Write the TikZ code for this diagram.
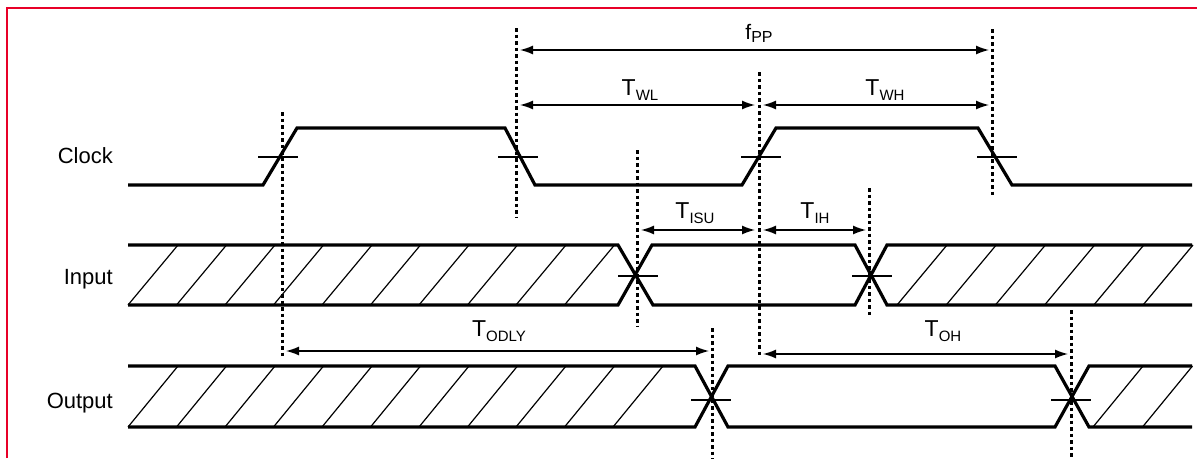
\documentclass[tikz,border=0pt]{standalone}
\usepackage{fontspec}
\setmainfont{Liberation Sans}
\usetikzlibrary{arrows.meta}
\newcommand\sigsub[2]{#1\raisebox{-5pt}{\fontsize{15}{15}\selectfont #2}}

\begin{document}
\begin{tikzpicture}[x=1pt, y=-1pt]
\tikzstyle{wave}=[line width=3.2pt, line join=miter]
\tikzstyle{hatch}=[line width=1.2pt]
\tikzstyle{timemark}=[line width=3pt, dash pattern=on 3.5pt off 3pt]
\tikzstyle{tick}=[line width=1.3pt]
\tikzstyle{dim}=[line width=1.4pt, {Latex[length=13pt,width=9pt]}-{Latex[length=13pt,width=9pt]}]
\tikzstyle{rowname}=[anchor=base east, inner sep=0pt, font=\fontsize{22}{26}\selectfont]
\tikzstyle{dimname}=[anchor=base, inner sep=0pt, font=\fontsize{23}{26}\selectfont]
\definecolor{framered}{RGB}{232,0,40}

\useasboundingbox (0,0) rectangle (1197,458);
\draw[framered, line width=2pt] (7,458) -- (7,8) -- (1197,8);

% row names
\node[rowname] (clk) at (113,163) {Clock};
\node[rowname] (inp) at (113,284) {Input};
\node[rowname] (outp) at (113,408) {Output};

% clock
\draw[wave] (128,185) -- (263,185) -- (297,128) -- (505,128) -- (535,185) -- (742,185)
  -- (776,128) -- (978,128) -- (1012,185) -- (1192,185);

% input
\draw[wave] (128,245) -- (618,245) -- (653,305) -- (855,305) -- (887,245) -- (1192,245);
\draw[wave] (128,305) -- (618,305) -- (652,245) -- (855,245) -- (887,305) -- (1192,305);
\foreach \k in {0,...,9}
  \draw[hatch] (128+48.5*\k,305) -- (178+48.5*\k,245);
\foreach \k in {0,...,5}
  \draw[hatch] (897+49.2*\k,305) -- (947+49.2*\k,245);

% output
\draw[wave] (128,366) -- (695,366) -- (728,427) -- (1055,427) -- (1089,366) -- (1192,366);
\draw[wave] (128,427) -- (695,427) -- (728,366) -- (1055,366) -- (1089,427) -- (1192,427);
\foreach \k in {0,...,10}
  \draw[hatch] (128+48.5*\k,427) -- (178+48.5*\k,366);
\foreach \k in {0,1}
  \draw[hatch] (1093+49.5*\k,427) -- (1143+49.5*\k,366);

% crossing ticks
\foreach \x/\y in {278/157, 518/157, 761/157, 997/157, 638/276, 872/276, 711/400, 1071/400}
  \draw[tick] (\x-20,\y) -- (\x+20,\y);

% dotted time markers
\coordinate (m0t) at (282,112);  \coordinate (m0b) at (282,358);
\coordinate (m1t) at (516,28);   \coordinate (m1b) at (516,217);
\coordinate (m2t) at (759,72);   \coordinate (m2b) at (759,356);
\coordinate (m3t) at (992,29);   \coordinate (m3b) at (992,197);
\coordinate (m4t) at (637,150);  \coordinate (m4b) at (637,326);
\coordinate (m5t) at (869,188);  \coordinate (m5b) at (869,315);
\coordinate (m6t) at (712,328);  \coordinate (m6b) at (712,460);
\coordinate (m7t) at (1071,310); \coordinate (m7b) at (1071,460);
\foreach \m in {0,...,7}
  \draw[timemark] (m\m t) -- (m\m b);

% dimension arrows
\coordinate (fpp0) at (520,50);  \coordinate (fpp1) at (989,50);
\coordinate (twl0) at (520,105); \coordinate (twl1) at (755,105);
\coordinate (twh0) at (763,105); \coordinate (twh1) at (989,105);
\coordinate (tisu0) at (641,230); \coordinate (tisu1) at (755,230);
\coordinate (tih0) at (763,230); \coordinate (tih1) at (866,230);
\coordinate (todly0) at (286,351); \coordinate (todly1) at (709,351);
\coordinate (toh0) at (763,354); \coordinate (toh1) at (1068,354);
\draw[dim] (fpp0) -- (fpp1);
\draw[dim] (twl0) -- (twl1);
\draw[dim] (twh0) -- (twh1);
\draw[dim] (tisu0) -- (tisu1);
\draw[dim] (tih0) -- (tih1);
\draw[dim] (todly0) -- (todly1);
\draw[dim] (toh0) -- (toh1);

\node[dimname, font=\fontsize{21}{24}\selectfont] (lfpp) at (759,39) {f\raisebox{-3pt}{\fontsize{16}{16}\selectfont PP}};
\node[dimname] (ltwl) at (640,95) {\sigsub{T}{WL}};
\node[dimname] (ltwh) at (885,95) {\sigsub{T}{WH}};
\node[dimname] (ltisu) at (695,218) {\sigsub{T}{ISU}};
\node[dimname] (ltih) at (815,218) {\sigsub{T}{IH}};
\node[dimname] (ltodly) at (499,336) {\sigsub{T}{ODLY}};
\node[dimname] (ltoh) at (943,336) {\sigsub{T}{OH}};
\end{tikzpicture}
\end{document}
